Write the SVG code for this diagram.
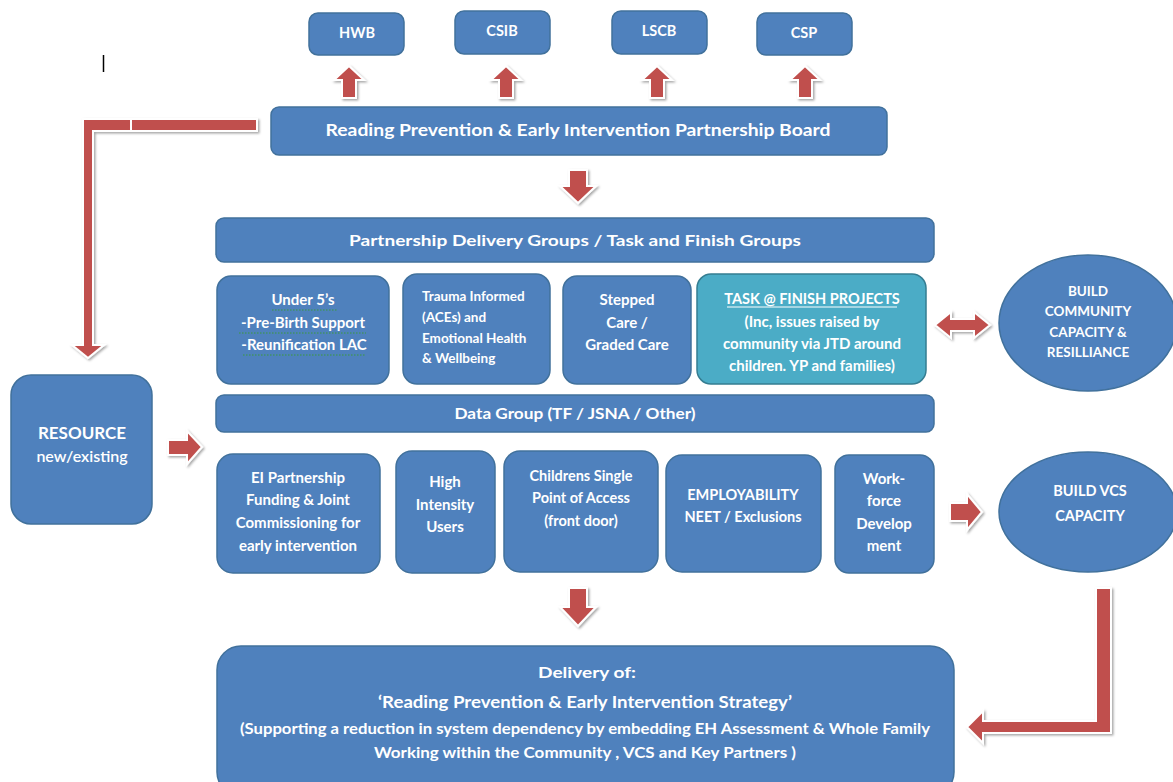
<svg xmlns="http://www.w3.org/2000/svg" width="1173" height="782" viewBox="0 0 1173 782">
<defs>
<filter id="sh" x="-20%" y="-20%" width="140%" height="140%">
<feDropShadow dx="1.5" dy="1.5" stdDeviation="1.2" flood-color="#000" flood-opacity="0.35"/>
</filter>
<style>
.box{fill:#4F81BD;stroke:#41719C;stroke-width:1.5}
.teal{fill:#4BACC6;stroke:#357D91;stroke-width:1.5}
.arr{fill:#C0504D;stroke:#fff;stroke-width:2;filter:url(#sh)}
text{font-family:Lato,"Liberation Sans",sans-serif;font-weight:bold;fill:#fff;text-anchor:middle}
.t13{font-size:13.5px}
.t14{font-size:14.5px}
.t15{font-size:15px}
.t16{font-size:16px}
.t17{font-size:17px}
.sq{fill:none;stroke:#3a9a3a;stroke-width:1;stroke-dasharray:1.5 1.5}
</style>
</defs>
<rect width="1173" height="782" fill="#fff"/>
<line x1="103.5" y1="55" x2="103.5" y2="72" stroke="#000" stroke-width="1.5"/>

<g id="connectors">
<path class="arr" d="M349,66 L364,80 L356,80 L356,98 L342,98 L342,80 L334,80 Z"/>
<path class="arr" d="M506,66 L521,80 L513,80 L513,98 L499,98 L499,80 L491,80 Z"/>
<path class="arr" d="M657,66 L672,80 L664,80 L664,98 L650,98 L650,80 L642,80 Z"/>
<path class="arr" d="M805,66 L820,80 L812,80 L812,98 L798,98 L798,80 L790,80 Z"/>
<path class="arr" d="M569,170 L587,170 L587,186 L596,186 L578,203 L560,186 L569,186 Z"/>
<path class="arr" d="M569,588 L587,588 L587,607 L596,607 L578,626 L560,607 L569,607 Z"/>
<path class="arr" d="M257,119 L83,119 L83,345 L72,345 L88,358 L104,345 L93,345 L93,131 L257,131 Z"/>
<line x1="131" y1="119" x2="131" y2="131" stroke="#fff" stroke-width="2"/>
<path class="arr" d="M168,440 L187,440 L187,431 L202,447 L187,464 L187,455 L168,455 Z"/>
<path class="arr" d="M950,503 L967,503 L967,494 L982,512 L967,530 L967,521 L950,521 Z"/>
<path class="arr" d="M935,325 L951,312 L951,319 L974,319 L974,312 L990,325 L974,338 L974,331 L951,331 L951,338 Z"/>
<path class="arr" d="M1096,588 L1111,588 L1111,733 L983,733 L983,743 L967,727 L983,711 L983,721 L1096,721 Z"/>
</g>

<g id="hwb"><rect class="box" x="309" y="13" width="95" height="42" rx="9"/><text class="t14" x="357" y="38">HWB</text></g>
<g id="csib"><rect class="box" x="455" y="11" width="95" height="43" rx="9"/><text class="t14" x="502" y="36">CSIB</text></g>
<g id="lscb"><rect class="box" x="612" y="11" width="95" height="43" rx="9"/><text class="t14" x="659" y="36">LSCB</text></g>
<g id="csp"><rect class="box" x="757" y="13" width="95" height="42" rx="9"/><text class="t14" x="804" y="38">CSP</text></g>

<g id="board"><rect class="box" x="271" y="107" width="616" height="48" rx="8"/><text class="t17" x="578" y="136" textLength="505" lengthAdjust="spacingAndGlyphs">Reading Prevention &amp; Early Intervention Partnership Board</text></g>

<g id="delivery-groups"><rect class="box" x="216" y="218" width="718" height="44" rx="8"/><text class="t16" x="575" y="246" textLength="452" lengthAdjust="spacingAndGlyphs">Partnership Delivery Groups / Task and Finish Groups</text></g>

<g id="under5"><rect class="box" x="217" y="276" width="172" height="108" rx="14"/>
<text class="t15" x="303" y="305">Under 5’s</text>
<text class="t15" x="303" y="328">-Pre-Birth Support</text>
<text class="t15" x="304" y="350">-Reunification LAC</text>
<path class="sq" d="M272,310 L337,310 M239,333 L366,333 M243,355 L366,355"/>
</g>

<g id="trauma"><rect class="box" x="403" y="274" width="147" height="110" rx="14"/>
<text class="t13" x="422" y="301" style="text-anchor:start">Trauma Informed</text>
<text class="t13" x="422" y="322" style="text-anchor:start">(ACEs) and</text>
<text class="t13" x="422" y="343" style="text-anchor:start">Emotional Health</text>
<text class="t13" x="422" y="363" style="text-anchor:start">&amp; Wellbeing</text>
</g>

<g id="stepped"><rect class="box" x="563" y="276" width="128" height="108" rx="14"/>
<text class="t15" x="627" y="305">Stepped</text>
<text class="t15" x="627" y="328">Care /</text>
<text class="t15" x="627" y="350">Graded Care</text>
</g>

<g id="task"><rect class="teal" x="697" y="274" width="229" height="110" rx="14"/>
<text class="t14" x="812" y="304">TASK @ FINISH PROJECTS</text>
<line x1="727" y1="307" x2="897" y2="307" stroke="#fff" stroke-width="1"/>
<text class="t15" x="812" y="327">(Inc, issues raised by</text>
<text class="t15" x="812" y="349">community via JTD around</text>
<text class="t15" x="812" y="371">children. YP and families)</text>
</g>

<g id="build-community"><ellipse class="box" cx="1088" cy="323" rx="89" ry="68"/>
<text class="t13" x="1088" y="296">BUILD</text>
<text class="t13" x="1088" y="316">COMMUNITY</text>
<text class="t13" x="1088" y="337">CAPACITY &amp;</text>
<text class="t13" x="1088" y="357">RESILLIANCE</text>
</g>

<g id="data-group"><rect class="box" x="216" y="395" width="718" height="37" rx="8"/><text class="t15" x="575" y="419" textLength="241" lengthAdjust="spacingAndGlyphs">Data  Group (TF / JSNA / Other)</text></g>

<g id="resource"><rect class="box" x="11" y="375" width="141" height="149" rx="20"/>
<text class="t17" x="82" y="439">RESOURCE</text>
<text class="t16" x="82" y="462" style="font-weight:600">new/existing</text>
</g>

<g id="ei"><rect class="box" x="217" y="454" width="163" height="119" rx="16"/>
<text class="t15" x="298" y="483">EI Partnership</text>
<text class="t15" x="298" y="505">Funding &amp; Joint</text>
<text class="t15" x="298" y="528">Commissioning for</text>
<text class="t15" x="298" y="551">early intervention</text>
</g>

<g id="high-intensity"><rect class="box" x="396" y="451" width="99" height="122" rx="16"/>
<text class="t15" x="445" y="487">High</text>
<text class="t15" x="445" y="510">Intensity</text>
<text class="t15" x="445" y="532">Users</text>
</g>

<g id="spoa"><rect class="box" x="504" y="451" width="154" height="121" rx="16"/>
<text class="t14" x="581" y="481">Childrens Single</text>
<text class="t14" x="581" y="503">Point of Access</text>
<text class="t14" x="581" y="526">(front door)</text>
</g>

<g id="employability"><rect class="box" x="666" y="455" width="155" height="117" rx="16"/>
<text class="t14" x="743" y="500">EMPLOYABILITY</text>
<text class="t14" x="743" y="522">NEET / Exclusions</text>
</g>

<g id="workforce"><rect class="box" x="835" y="455" width="99" height="118" rx="14"/>
<text class="t15" x="884" y="484">Work-</text>
<text class="t15" x="884" y="506">force</text>
<text class="t15" x="884" y="529">Develop</text>
<text class="t15" x="884" y="551">ment</text>
</g>

<g id="build-vcs"><ellipse class="box" cx="1088" cy="512" rx="89" ry="60"/>
<text class="t14" x="1090" y="496">BUILD VCS</text>
<text class="t14" x="1090" y="521">CAPACITY</text>
</g>

<g id="delivery"><rect class="box" x="217" y="646" width="737" height="150" rx="24"/>
<text class="t16" x="587" y="678" textLength="98" lengthAdjust="spacingAndGlyphs">Delivery of:</text>
<text class="t17" x="585" y="708" textLength="414" lengthAdjust="spacingAndGlyphs">‘Reading Prevention &amp; Early Intervention Strategy’</text>
<text class="t16" x="585" y="734" textLength="690" lengthAdjust="spacingAndGlyphs">(Supporting a reduction in system dependency by embedding EH Assessment &amp; Whole Family</text>
<text class="t16" x="585" y="758" textLength="422" lengthAdjust="spacingAndGlyphs">Working within the Community , VCS and Key Partners )</text>
</g>
</svg>
